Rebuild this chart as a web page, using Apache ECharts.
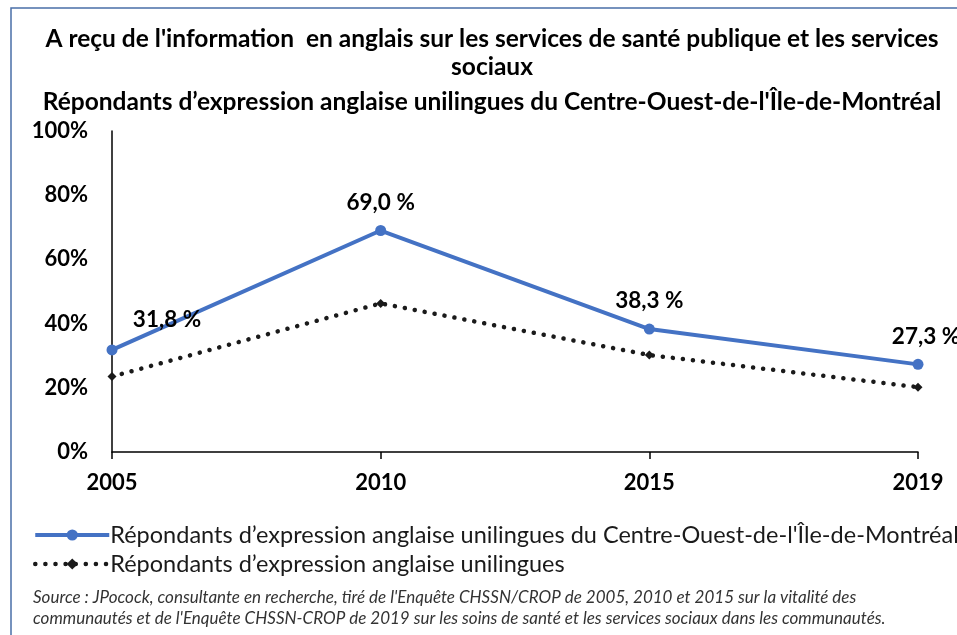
<!DOCTYPE html>
<html>
<head>
<meta charset="utf-8">
<script src="https://cdn.jsdelivr.net/npm/echarts@6/dist/echarts.min.js"></script>
<style>
  html, body { margin: 0; padding: 0; background: #ffffff; }
  #chart { width: 957px; height: 635px; }
</style>
</head>
<body>
<div id="chart"></div>
<script>
// Survey years and shares (%) of unilingual English-speaking respondents
const years = ['2005', '2010', '2015', '2019'];
const centreOuest = [31.8, 69.0, 38.3, 27.3];
const quebecTotal = [23.5, 46.3, 30.2, 20.2];
const yTicks = [0, 20, 40, 60, 80, 100];

const seriesNames = [
  'Répondants d’expression anglaise unilingues du Centre-Ouest-de-l\'Île-de-Montréal',
  'Répondants d’expression anglaise unilingues'
];

const FONT = 'Lato, "Noto Sans", sans-serif';
const fmtPct = v => v.toFixed(1).replace('.', ',') + ' %';

// label placement per point for the highlighted series
const labelOffsets = [[55, -2], [0, 0], [0, 0], [8, 0]];

const chart = echarts.init(document.getElementById('chart'), null, { renderer: 'canvas' });

chart.setOption({
  animation: false,
  backgroundColor: '#ffffff',
  textStyle: { fontFamily: FONT },
  title: [
    {
      text: 'A reçu de l\'information  en anglais sur les services de santé publique et les services\nsociaux',
      left: 487, top: 20, textAlign: 'center',
      textStyle: { fontFamily: FONT, fontSize: 24.5, fontWeight: 'bold', color: '#000', lineHeight: 28 }
    },
    {
      text: 'Répondants d’expression anglaise unilingues du Centre-Ouest-de-l\'Île-de-Montréal',
      left: 487, top: 85, textAlign: 'center',
      textStyle: { fontFamily: FONT, fontSize: 24.5, fontWeight: 'bold', color: '#000' }
    }
  ],
  grid: { left: 112, right: 39, top: 131, bottom: 183, containLabel: false },
  xAxis: {
    type: 'category',
    data: years,
    boundaryGap: false,
    axisLine: { lineStyle: { color: '#000', width: 1.5 } },
    axisTick: { show: true, length: 7, inside: false, lineStyle: { color: '#000', width: 1.5 }, alignWithLabel: true },
    axisLabel: { fontFamily: FONT, fontSize: 22, fontWeight: 'bold', color: '#000', margin: 20 },
    splitLine: { show: false }
  },
  yAxis: {
    type: 'value',
    min: 0, max: 100, interval: 20,
    axisLine: { show: true, lineStyle: { color: '#000', width: 1.5 } },
    axisTick: { show: false },
    axisLabel: {
      fontFamily: FONT, fontSize: 22, fontWeight: 'bold', color: '#000', margin: 24,
      formatter: v => (yTicks.includes(v) ? v + '%' : '')
    },
    splitLine: { show: false }
  },
  legend: {
    orient: 'vertical',
    left: 28, top: 518,
    itemWidth: 74, itemHeight: 14, itemGap: 5,
    textStyle: { fontFamily: FONT, fontSize: 23.5, color: '#1a1a1a', padding: [0, 0, 0, -4] },
    data: [
      { name: seriesNames[0], lineStyle: { width: 4 } },
      { name: seriesNames[1], lineStyle: { width: 4.5 } }
    ]
  },
  series: [
    {
      name: seriesNames[1],
      type: 'line',
      data: quebecTotal,
      symbol: 'diamond', symbolSize: 9,
      itemStyle: { color: '#1a1a1a' },
      lineStyle: { color: '#1a1a1a', width: 4.5, type: [0.1, 10], cap: 'round' },
      z: 2
    },
    {
      name: seriesNames[0],
      type: 'line',
      data: centreOuest.map((v, i) => ({
        value: v,
        label: { offset: labelOffsets[i] }
      })),
      symbol: 'circle', symbolSize: 11,
      itemStyle: { color: '#4472C4' },
      lineStyle: { color: '#4472C4', width: 4 },
      label: {
        show: true, position: 'top', distance: 11,
        fontFamily: FONT, fontSize: 22.5, fontWeight: 'bold', color: '#000',
        formatter: p => fmtPct(p.value)
      },
      z: 3
    }
  ],
  graphic: [
    {
      type: 'rect', silent: true,
      shape: { x: 11, y: 8, width: 1000, height: 700 },
      style: { fill: 'none', stroke: '#4a6fa8', lineWidth: 1.5 }
    },
    {
      type: 'text', left: 33, top: 587,
      style: {
        text: 'Source : JPocock, consultante en recherche, tiré de l\'Enquête CHSSN/CROP de 2005, 2010 et 2015 sur la vitalité des\ncommunautés et de l\'Enquête CHSSN-CROP de 2019 sur les soins de santé et les services sociaux dans les communautés.',
        font: 'italic 17px ' + FONT, fill: '#333', lineHeight: 21
      }
    }
  ]
});
</script>
</body>
</html>
